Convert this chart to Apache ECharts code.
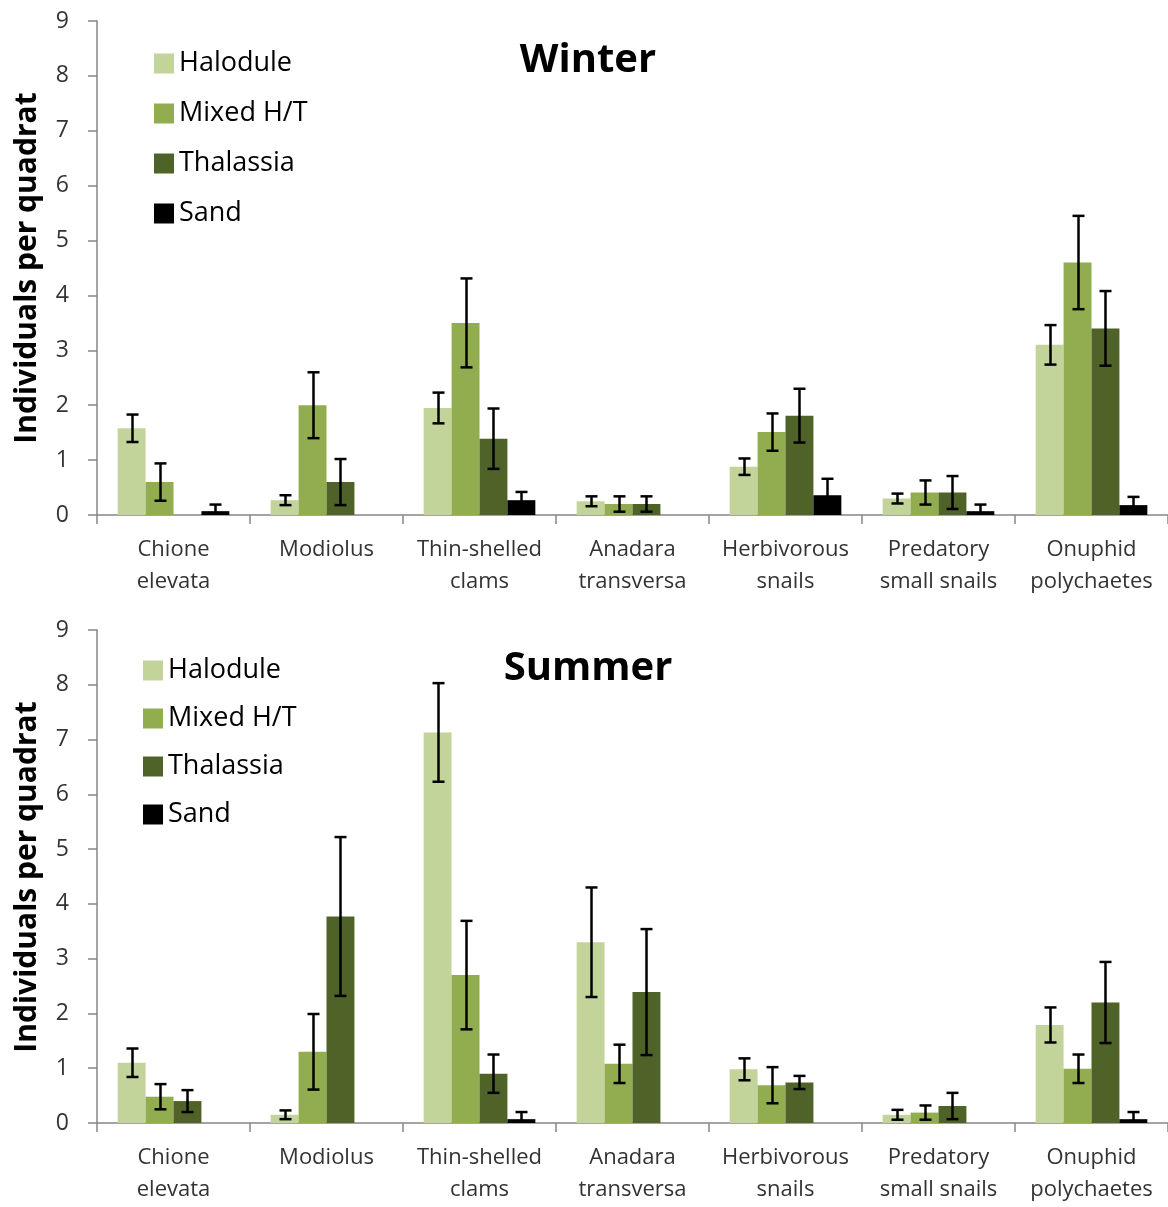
<!DOCTYPE html>
<html>
<head>
<meta charset="utf-8">
<script src="https://cdn.jsdelivr.net/npm/echarts@6/dist/echarts.min.js"></script>
<style>
html,body{margin:0;padding:0;background:#fff;}
#chart{width:1168px;height:1207px;}
</style>
</head>
<body>
<div id="chart"></div>
<script>
// ---- data ----
const categories = ["Chione\nelevata", "Modiolus", "Thin-shelled\nclams", "Anadara\ntransversa", "Herbivorous\nsnails", "Predatory\nsmall snails", "Onuphid\npolychaetes"];
const seriesNames = ["Halodule", "Mixed H/T", "Thalassia", "Sand"];
const yTicks = [0, 1, 2, 3, 4, 5, 6, 7, 8, 9];

// Winter means
const winterHalodule = [1.58, 0.27, 1.95, 0.25, 0.88, 0.30, 3.10];
const winterMixed    = [0.60, 2.00, 3.50, 0.20, 1.51, 0.41, 4.60];
const winterThal     = [0.00, 0.60, 1.39, 0.20, 1.81, 0.41, 3.40];
const winterSand     = [0.07, 0.00, 0.27, 0.00, 0.36, 0.07, 0.18];
// Winter errors (SE)
const winterHaloduleErr = [0.25, 0.09, 0.28, 0.09, 0.15, 0.09, 0.36];
const winterMixedErr    = [0.34, 0.60, 0.81, 0.14, 0.34, 0.22, 0.85];
const winterThalErr     = [0.00, 0.42, 0.55, 0.14, 0.49, 0.30, 0.68];
const winterSandErr     = [0.12, 0.00, 0.15, 0.00, 0.30, 0.12, 0.15];

// Summer means
const summerHalodule = [1.10, 0.15, 7.13, 3.30, 0.98, 0.15, 1.79];
const summerMixed    = [0.48, 1.30, 2.70, 1.08, 0.69, 0.19, 0.99];
const summerThal     = [0.40, 3.77, 0.90, 2.39, 0.74, 0.31, 2.20];
const summerSand     = [0.00, 0.00, 0.07, 0.00, 0.00, 0.00, 0.07];
// Summer errors
const summerHaloduleErr = [0.26, 0.08, 0.90, 1.00, 0.20, 0.09, 0.32];
const summerMixedErr    = [0.23, 0.69, 0.99, 0.35, 0.33, 0.13, 0.26];
const summerThalErr     = [0.20, 1.45, 0.35, 1.15, 0.12, 0.24, 0.74];
const summerSandErr     = [0.00, 0.00, 0.13, 0.00, 0.00, 0.00, 0.13];

// ---- styling ----
const colors = ["#c3d49b", "#92ad4f", "#4f6228", "#000000"];
const FONT = "Open Sans";
const CAT_GAP = 0.27;

const chart = echarts.init(document.getElementById('chart'), null, {renderer: 'canvas'});

function errSeries(name, means, errs, k, axisIdx) {
  return {
    type: 'custom',
    name: name + ' err',
    xAxisIndex: axisIdx, yAxisIndex: axisIdx,
    z: 10,
    silent: true,
    clip: true,
    data: means.map((m, i) => [i, m, errs[i], k]),
    renderItem: function (params, api) {
      const cat = api.value(0), v = api.value(1), e = api.value(2), kk = api.value(3);
      if (!e) return;
      const catW = api.size([1, 0])[0];
      const bw = catW * (1 - CAT_GAP) / 4;
      const c = api.coord([cat, v]);
      const x = Math.round(c[0] + (kk - 1.5) * bw) + 0.5;
      const yt = api.coord([cat, v + e])[1];
      const yb = api.coord([cat, Math.max(0, v - e)])[1];
      const hw = 6;
      const st = {stroke: '#000', lineWidth: 2.5};
      return {
        type: 'group',
        children: [
          {type: 'line', shape: {x1: x, y1: yt, x2: x, y2: yb}, style: st},
          {type: 'line', shape: {x1: x - hw, y1: yt, x2: x + hw, y2: yt}, style: st},
          {type: 'line', shape: {x1: x - hw, y1: yb, x2: x + hw, y2: yb}, style: st}
        ]
      };
    }
  };
}

function barSeries(name, data, k, axisIdx) {
  return {
    type: 'bar',
    name: name,
    xAxisIndex: axisIdx, yAxisIndex: axisIdx,
    data: data,
    barGap: '0%',
    barCategoryGap: (CAT_GAP * 100) + '%',
    itemStyle: {color: colors[k]},
    emphasis: {disabled: true}
  };
}

const winterMeans = [winterHalodule, winterMixed, winterThal, winterSand];
const winterErrs = [winterHaloduleErr, winterMixedErr, winterThalErr, winterSandErr];
const summerMeans = [summerHalodule, summerMixed, summerThal, summerSand];
const summerErrs = [summerHaloduleErr, summerMixedErr, summerThalErr, summerSandErr];

const series = [];
seriesNames.forEach((n, k) => series.push(barSeries(n, winterMeans[k], k, 0)));
seriesNames.forEach((n, k) => series.push(barSeries(n, summerMeans[k], k, 1)));
seriesNames.forEach((n, k) => series.push(errSeries(n, winterMeans[k], winterErrs[k], k, 0)));
seriesNames.forEach((n, k) => series.push(errSeries(n, summerMeans[k], summerErrs[k], k, 1)));

function xAxis(gridIndex) {
  return {
    type: 'category', gridIndex: gridIndex, data: categories,
    axisLine: {lineStyle: {color: '#868686', width: 1.5}},
    axisTick: {show: true, length: 9, lineStyle: {color: '#868686', width: 1.5}},
    axisLabel: {color: '#333333', fontFamily: FONT, fontSize: 22, lineHeight: 32, margin: 19, interval: 0}
  };
}
function yAxis(gridIndex) {
  return {
    type: 'value', gridIndex: gridIndex, min: yTicks[0], max: yTicks[yTicks.length - 1], interval: 1,
    splitLine: {show: false},
    axisLine: {show: true, lineStyle: {color: '#868686', width: 1.5}},
    axisTick: {show: true, length: 9, lineStyle: {color: '#868686', width: 1.5}},
    axisLabel: {color: '#333333', fontFamily: FONT, fontSize: 23, margin: 28}
  };
}

function legend(left, top, gap) {
  return {
    orient: 'vertical', left: left, top: top, padding: 0,
    data: seriesNames,
    icon: 'rect', itemWidth: 20, itemHeight: 20, itemGap: gap,
    selectedMode: false,
    textStyle: {color: '#000', fontFamily: FONT, fontSize: 27, lineHeight: 26}
  };
}

const option = {
  animation: false,
  backgroundColor: '#fff',
  grid: [
    {left: 97, right: 0, top: 21, height: 494},
    {left: 97, right: 0, top: 630, height: 493}
  ],
  xAxis: [xAxis(0), xAxis(1)],
  yAxis: [yAxis(0), yAxis(1)],
  legend: [legend(154, 50, 23), legend(143, 657, 21)],
  graphic: [
    {type: 'text', x: 588, y: 61, style: {text: 'Winter', fill: '#000', font: 'bold 40px "Open Sans"', textAlign: 'center', textVerticalAlign: 'middle'}},
    {type: 'text', x: 588, y: 669, style: {text: 'Summer', fill: '#000', font: 'bold 40px "Open Sans"', textAlign: 'center', textVerticalAlign: 'middle'}},
    {type: 'text', x: 27, y: 268, rotation: Math.PI / 2, style: {text: 'Individuals per quadrat', fill: '#000', font: 'bold 30px "Open Sans"', textAlign: 'center', textVerticalAlign: 'middle'}},
    {type: 'text', x: 27, y: 877, rotation: Math.PI / 2, style: {text: 'Individuals per quadrat', fill: '#000', font: 'bold 30px "Open Sans"', textAlign: 'center', textVerticalAlign: 'middle'}}
  ],
  series: series
};
chart.setOption(option);
</script>
</body>
</html>
